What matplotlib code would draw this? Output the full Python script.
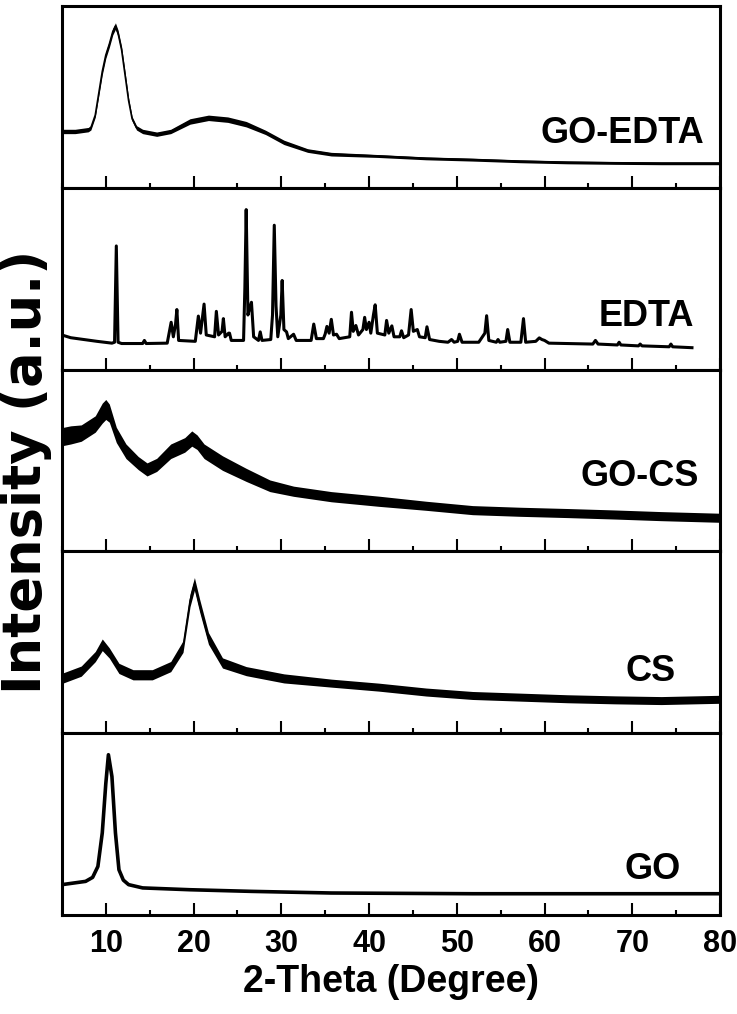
import matplotlib
matplotlib.use("Agg")
import matplotlib.pyplot as plt
from matplotlib.ticker import MultipleLocator

# --- data (intensity in % of panel height) ---
# GO-EDTA: centre of trace and half width of the noise band
goedta_x = [5, 6.5, 8.0, 8.3, 8.8, 9.2, 9.6, 10.0, 10.4, 10.8, 11.1, 11.4, 11.8, 12.2, 12.6, 13.0,
            13.5, 14.2, 15.8, 17.4, 19.6, 21.7, 23.9, 26.0, 28.2, 30.3, 33.0, 35.7, 41.0, 46.5,
            51.8, 57.2, 62.6, 68.0, 73.3, 80]
goedta_y = [31, 31, 32, 33, 40, 52, 64, 73, 79, 86, 89, 85, 76, 62, 48, 38,
            33, 31, 29.5, 31, 36.5, 38.5, 37.5, 35, 30.5, 25, 20.5, 18.5, 17.5, 16.2,
            15.5, 14.6, 14, 13.7, 13.5, 13.5]
goedta_hw = [1.2, 1.2, 1.2, 1.2, 1.2, 1.5, 1.8, 1.8, 1.8, 1.8, 1.8, 1.8, 1.8, 1.8, 1.5, 1.2,
             1.2, 1.2, 1.2, 1.2, 1.5, 1.5, 1.5, 1.5, 1.2, 1.2, 1.0, 1.0, 0.8, 0.8,
             0.8, 0.8, 0.8, 0.8, 0.8, 0.8]

# EDTA: sharp crystalline peaks
edta_x = [5.0, 6.0, 7.5, 9.0, 10.7, 11.0, 11.2, 11.4, 11.8, 14.2, 14.4, 14.6, 17.0, 17.3, 17.45,
          17.7, 17.95, 18.1, 18.3, 20.2, 20.55, 20.8, 21.05, 21.2, 21.45, 22.4, 22.6, 22.85,
          23.25, 23.4, 23.6, 24.0, 24.1, 24.3, 25.7, 25.85, 26.0, 26.2, 26.35, 26.6, 26.85,
          27.4, 27.6, 27.8, 28.8, 29.0, 29.2, 29.4, 29.6, 29.95, 30.1, 30.3, 30.6, 30.8, 31.4,
          31.7, 33.4, 33.7, 34.0, 34.8, 35.0, 35.2, 35.45, 35.7, 35.95, 36.3, 36.6, 37.8, 38.0,
          38.2, 38.5, 38.8, 39.3, 39.5, 39.7, 40.0, 40.2, 40.5, 40.7, 40.95, 41.8, 42.0, 42.25,
          42.6, 42.85, 43.5, 43.7, 43.95, 44.5, 44.8, 45.05, 45.5, 45.75, 46.4, 46.6, 46.9,
          48.0, 49.0, 49.4, 49.7, 50.1, 50.3, 50.6, 52.5, 53.2, 53.4, 53.65, 54.5, 54.7, 54.9,
          55.6, 55.8, 56.05, 57.3, 57.6, 57.85, 59.0, 59.4, 59.7, 60.0, 60.5, 65.5, 65.8, 66.1,
          68.3, 68.5, 68.7, 70.7, 70.9, 71.1, 74.2, 74.4, 74.6, 76.8]
edta_y = [19, 17.5, 16.5, 15.5, 14.5, 15, 68, 15, 14.3, 14.3, 16, 14.3, 14.5, 22, 26,
          18, 25, 33, 16, 15.5, 29.4, 20, 30, 36, 19, 18, 32, 19,
          21, 28, 18, 20, 20, 16, 16, 45, 88, 30, 33, 37, 18,
          16, 20.7, 16, 16.5, 30, 79.4, 35, 18, 30, 49, 22, 20.7, 17, 19.4,
          16, 16, 25, 17, 17, 19.5, 23.7, 20, 27.6, 19, 19.4, 17, 18, 31.5,
          21, 24.2, 19, 22, 28.7, 22, 26, 20, 30, 35.6, 20, 19, 27, 20,
          24, 18, 18, 21.3, 17.5, 19, 33, 21, 22, 18, 17.5, 23.5, 16.5,
          15.5, 15, 16.5, 15, 15.5, 19.4, 15, 15, 20, 29.6, 16, 15, 16.5, 15,
          15.5, 22, 15, 15, 28, 15, 15.5, 17.4, 16.5, 16, 14.5, 14, 16, 14,
          13.5, 15, 13.5, 13, 14, 13, 12.5, 14, 12.5, 12]

# GO-CS
gocs_x = [5, 6.0, 7.2, 8.8, 9.6, 10.0, 10.4, 11.2, 12.3, 13.7, 14.7, 15.8, 17.4, 19.0, 19.8,
          20.4, 21.2, 23.3, 26.0, 28.7, 31.4, 35.7, 41.1, 46.5, 51.8, 57.2, 62.6, 68.0, 73.3, 80]
gocs_y = [63, 64, 65, 70, 76, 78, 76, 64, 55, 48.5, 45, 47.5, 55, 58.5, 62,
          60, 55, 48.5, 42, 36, 33, 30, 27.5, 25, 22.6, 21.7, 21, 20.2, 19.3, 18.4]
gocs_hw = [5, 5, 4.5, 4.5, 5.5, 5.5, 5, 4.2, 4, 3.6, 3.6, 3.6, 4, 4, 4.2,
           4, 4, 4, 3.6, 3.2, 2.8, 2.8, 2.8, 2.5, 2.5, 2.5, 2.5, 2.5, 2.5, 2.5]

# CS
cs_x = [5, 7.2, 8.8, 9.6, 10.4, 11.5, 13.1, 15.3, 17.4, 18.8, 19.6, 20.1, 20.7, 21.7, 23.3,
        26.0, 30.3, 35.7, 41.1, 46.5, 51.8, 57.2, 62.6, 68.0, 73.3, 80]
cs_y = [30, 34, 42, 48.5, 44, 35.5, 32, 32, 36.5, 47.5, 73, 82, 70, 52, 38.5,
        34, 30, 27.4, 25.2, 22.5, 20.6, 19.7, 18.8, 18.2, 17.8, 18.5]
cs_hw = [2.8, 2.8, 2.8, 3.2, 2.8, 2.8, 2.8, 2.8, 2.8, 3.2, 3.5, 3.5, 3.5, 3.2, 2.8,
         2.5, 2.5, 2.2, 2.2, 2.2, 2.2, 2.2, 2.2, 2.2, 2.2, 2.2]

# GO
go_x = [5, 7.7, 8.5, 9.1, 9.6, 10.0, 10.3, 10.7, 11.1, 11.5, 12.0, 12.6, 14.2, 19.6, 26.6, 35.7, 51.8, 80]
go_y = [16.5, 18.3, 20.5, 26.5, 45, 72, 88, 76, 45, 24.7, 19, 16.5, 14.7, 13.7, 12.8, 11.9, 11.5, 11.5]

labels = ["GO-EDTA", "EDTA", "GO-CS", "CS", "GO"]
label_pos = [(78.2, 30), (77.1, 29), (77.6, 41), (74.9, 34), (75.5, 25)]

plt.rcParams['font.family'] = ['Liberation Sans', 'DejaVu Sans']
plt.rcParams['font.weight'] = 'bold'

fig, axes = plt.subplots(5, 1, figsize=(7.37, 10.14), dpi=100, sharex=True)
fig.subplots_adjust(left=0.084, right=0.977, top=0.994, bottom=0.098, hspace=0)

lo = [m - h for m, h in zip(goedta_y, goedta_hw)]
hi = [m + h for m, h in zip(goedta_y, goedta_hw)]
axes[0].fill_between(goedta_x, lo, hi, color='black', lw=0)
axes[0].plot(goedta_x, goedta_y, color='black', lw=1.2)

axes[1].plot(edta_x, edta_y, color='black', lw=2.2)

lo = [m - h for m, h in zip(gocs_y, gocs_hw)]
hi = [m + h for m, h in zip(gocs_y, gocs_hw)]
axes[2].fill_between(gocs_x, lo, hi, color='black', lw=0)
axes[2].plot(gocs_x, gocs_y, color='black', lw=1)

lo = [m - h for m, h in zip(cs_y, cs_hw)]
hi = [m + h for m, h in zip(cs_y, cs_hw)]
axes[3].fill_between(cs_x, lo, hi, color='black', lw=0)
axes[3].plot(cs_x, cs_y, color='black', lw=1)

axes[4].plot(go_x, go_y, color='black', lw=2.6)

for ax, lab, (lx, ly) in zip(axes, labels, label_pos):
    ax.set_xlim(5, 80)
    ax.set_ylim(0, 100)
    ax.set_yticks([])
    ax.xaxis.set_major_locator(MultipleLocator(10))
    ax.xaxis.set_minor_locator(MultipleLocator(5))
    ax.tick_params(axis='x', which='both', direction='in', top=False, bottom=True,
                   width=1.5, labelsize=22, pad=10)
    ax.tick_params(axis='x', which='major', length=8.6)
    ax.tick_params(axis='x', which='minor', length=3.6)
    for s in ax.spines.values():
        s.set_linewidth(2.2)
    ax.text(lx, ly, lab, ha='right', va='center', fontsize=26, fontweight='bold')

axes[-1].set_xlabel("2-Theta (Degree)", fontsize=27, fontweight='bold', labelpad=4)
fig.text(0.035, 0.535, "Intensity (a.u.)", rotation=90, ha='center', va='center',
         fontsize=38, fontweight='bold', family=['DejaVu Sans'])

fig.savefig("out.png", dpi=100)
